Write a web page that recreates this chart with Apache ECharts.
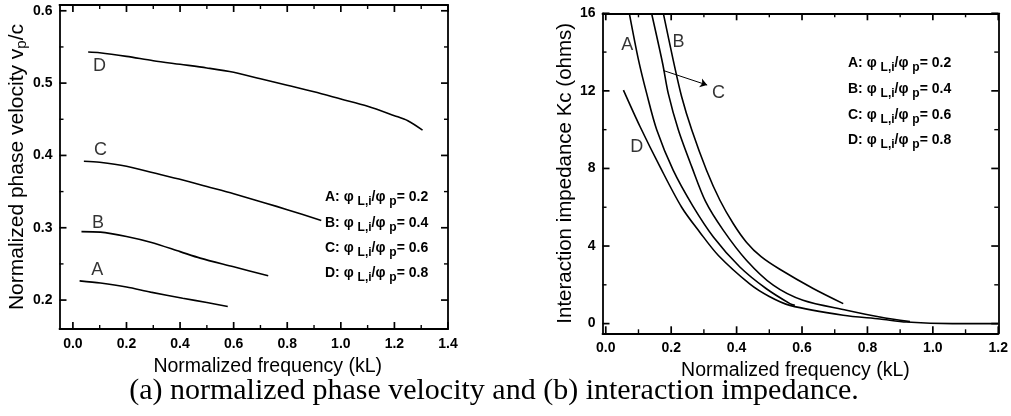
<!DOCTYPE html>
<html>
<head>
<meta charset="utf-8">
<script src="https://cdn.jsdelivr.net/npm/echarts@6/dist/echarts.min.js"></script>
<style>
html, body { margin: 0; padding: 0; background: #fff; }
#chart { width: 1011px; height: 416px; }
</style>
</head>
<body>
<div id="chart"></div>
<script>
// (a) normalized phase velocity, [kL, vp/c]
var velA = [[0.025, 0.2266], [0.103, 0.2235], [0.2, 0.218], [0.29, 0.211], [0.41, 0.2025], [0.5, 0.1966], [0.578, 0.191]];
var velB = [[0.032, 0.2947], [0.103, 0.294], [0.2, 0.288], [0.29, 0.280], [0.4, 0.267], [0.475, 0.258], [0.6, 0.246], [0.729, 0.2335]];
var velC = [[0.041, 0.392], [0.1, 0.3905], [0.2, 0.385], [0.3, 0.376], [0.41, 0.366], [0.5, 0.357], [0.6, 0.347], [0.72, 0.334], [0.8, 0.325], [0.927, 0.31]];
var velD = [[0.057, 0.543], [0.1, 0.542], [0.2, 0.537], [0.3, 0.531], [0.4, 0.526], [0.5, 0.521], [0.6, 0.515], [0.7, 0.506], [0.8, 0.497], [0.9, 0.488], [1.0, 0.478], [1.1, 0.468], [1.2, 0.455], [1.25, 0.448], [1.305, 0.435]];

// (b) interaction impedance, [kL, Kc]
var impA = [[0.072, 16], [0.1, 13.6], [0.125, 11.87], [0.156, 9.98], [0.206, 7.91], [0.265, 6.1], [0.329, 4.47], [0.41, 2.92], [0.49, 1.81], [0.563, 1.03], [0.578, 0.94]];
var impB = [[0.176, 16], [0.206, 13.6], [0.232, 11.7], [0.263, 9.98], [0.308, 7.91], [0.349, 6.36], [0.39, 5.15], [0.43, 4.2], [0.475, 3.45], [0.532, 2.8], [0.634, 1.81], [0.726, 1.03]];
var impC = [[0.14, 16], [0.174, 13.4], [0.191, 11.87], [0.222, 9.98], [0.263, 8.08], [0.305, 6.3], [0.359, 4.82], [0.43, 3.27], [0.512, 1.98], [0.603, 1.2], [0.736, 0.69], [0.838, 0.34], [0.93, 0.1]];
var impD = [[0.054, 12.04], [0.105, 10.15], [0.166, 8.08], [0.232, 6.0], [0.288, 4.7], [0.345, 3.5], [0.44, 2.05], [0.5, 1.4], [0.563, 0.94], [0.726, 0.43], [0.838, 0.24], [0.92, 0.08], [1.06, 0.0], [1.2, 0.0]];

var curveNames = ['A', 'B', 'C', 'D'];
var ratioValues = ['0.2', '0.4', '0.6', '0.8'];

// curve letters, in data coords
var velLabelAt = [[0.091, 0.242], [0.094, 0.306], [0.103, 0.408], [0.099, 0.524]];
var impLabelAt = [[0.066, 14.37], [0.222, 14.5], [0.345, 11.87], [0.095, 9.11]];
var impArrow = [[0.176, 13.05], [0.31, 12.3]];

// axis ranges and ticks
var velRangeX = [-0.05, 1.4];
var velRangeY = [0.16, 0.608];
var impRangeX = [-0.01, 1.2];
var impRangeY = [-0.5, 16];
var velTicksX = [0, 0.2, 0.4, 0.6, 0.8, 1.0, 1.2, 1.4];
var velMinorX = [0.1, 0.3, 0.5, 0.7, 0.9, 1.1, 1.3];
var velTicksY = [0.2, 0.3, 0.4, 0.5, 0.6];
var velMinorY = [0.25, 0.35, 0.45, 0.55];
var impTicksX = [0, 0.2, 0.4, 0.6, 0.8, 1.0, 1.2];
var impMinorX = [0.1, 0.3, 0.5, 0.7, 0.9, 1.1];
var impTicksY = [0, 4, 8, 12, 16];
var impMinorY = [2, 6, 10, 14];

var sans = 'Liberation Sans';

function $each(arr, fn) { for (var i = 0; i < arr.length; i++) fn(arr[i], i); }

//坐标轴：主轴带标签，对侧轴只画边框
function buildAxes(gridIndex, isX, range, major, digits, opt) {
    var pos = isX ? ['bottom', 'top'] : ['left', 'right'];
    var base = function (p) {
        return {
            type: 'value', gridIndex: gridIndex, position: p, min: range[0], max: range[1],
            axisLine: { show: true, onZero: false, lineStyle: { color: '#000', width: 1.8 } },
            axisTick: { show: false },
            axisLabel: { show: false },
            splitLine: { show: false }
        };
    };
    var main = base(pos[0]);
    main.axisLabel = {
        show: true, customValues: major, margin: opt.margin, color: '#000',
        fontFamily: sans, fontSize: 14, fontWeight: 'bold',
        formatter: function (v) { return Number(v).toFixed(digits); }
    };
    main.name = opt.name;
    main.nameLocation = 'middle';
    main.nameGap = opt.nameGap;
    main.nameTextStyle = {
        fontFamily: sans, fontSize: opt.nameSize, color: '#000', padding: opt.namePad || 0,
        rich: { sub: { fontFamily: sans, fontSize: opt.nameSize * 0.72, padding: [opt.nameSize * 0.45, 0, 0, 0] } }
    };
    return [main, base(pos[1])];
}

//四边朝内的刻度（主/次），位置由坐标轴换算
function tickSeries(gi, rx, ry, majX, minX, majY, minY) {
    var d = [];
    $each(majX, function (v) { d.push([v, 0, 1]); d.push([v, 1, 1]); });
    $each(minX, function (v) { d.push([v, 0, 0]); d.push([v, 1, 0]); });
    $each(majY, function (v) { d.push([v, 2, 1]); d.push([v, 3, 1]); });
    $each(minY, function (v) { d.push([v, 2, 0]); d.push([v, 3, 0]); });
    return {
        type: 'custom', xAxisIndex: gi * 2, yAxisIndex: gi * 2, silent: true, clip: false, z: 5,
        data: d,
        renderItem: function (params, api) {
            var v = api.value(0), side = api.value(1);
            var len = api.value(2) ? 7 : 4;
            var p, q;
            if (side < 2) {
                p = api.coord([v, side == 0 ? ry[0] : ry[1]]);
                q = [p[0], p[1] + (side == 0 ? -len : len)];
            } else {
                p = api.coord([side == 2 ? rx[0] : rx[1], v]);
                q = [p[0] + (side == 2 ? len : -len), p[1]];
            }
            return {
                type: 'line', shape: { x1: p[0], y1: p[1], x2: q[0], y2: q[1] },
                style: { stroke: '#000', lineWidth: api.value(2) ? 1.7 : 1.4 }
            };
        }
    };
}

function curve(data, gi) {
    return {
        type: 'line', data: data, xAxisIndex: gi * 2, yAxisIndex: gi * 2,
        showSymbol: false, smooth: 0.3, clip: true,
        lineStyle: { color: '#000', width: 1.6 }, silent: true
    };
}

function letters(pts, gi) {
    var d = [];
    $each(pts, function (p, i) { d.push({ value: p, name: curveNames[i] }); });
    return {
        type: 'scatter', data: d, xAxisIndex: gi * 2, yAxisIndex: gi * 2, symbolSize: 0, silent: true,
        label: { show: true, position: 'inside', formatter: '{b}', color: '#000', fontFamily: sans, fontSize: 18 }
    };
}

//图例文字
function legendTexts(x, ys) {
    var g = [];
    $each(curveNames, function (n, i) {
        g.push({
            type: 'text', x: x, y: ys[i], silent: true,
            style: {
                text: n + ': φ {s|L,i}/φ {s|p}= ' + ratioValues[i],
                fontFamily: sans, fontSize: 14, fontWeight: 'bold', fill: '#000', verticalAlign: 'middle',
                rich: { s: { fontFamily: sans, fontSize: 12, fontWeight: 'bold', fill: '#000', padding: [9, 0, 0, 0] } }
            }
        });
    });
    return g;
}

var myChart = echarts.init(document.getElementById('chart'));

var xAxes = buildAxes(0, true, velRangeX, velTicksX, 1, { margin: 8, name: 'Normalized frequency (kL)', nameGap: 28, nameSize: 19.5, namePad: [0, 0, 0, 28] })
    .concat(buildAxes(1, true, impRangeX, impTicksX, 1, { margin: 8, name: 'Normalized frequency (kL)', nameGap: 24, nameSize: 19.5, namePad: [0, 10, 0, 0] }));
var yAxes = buildAxes(0, false, velRangeY, velTicksY, 1, { margin: 7, name: 'Normalized phase velocity v{sub|p}/c', nameGap: 30, nameSize: 21 })
    .concat(buildAxes(1, false, impRangeY, impTicksY, 0, { margin: 7, name: 'Interaction impedance Kc (ohms)', nameGap: 25, nameSize: 20.5 }));

var arrowSeries = curve(impC, 1);
arrowSeries.markLine = {
    silent: true, animation: false, symbolSize: 7,
    lineStyle: { color: '#000', width: 1, type: 'solid' }, label: { show: false },
    data: [[{ coord: impArrow[0], symbol: 'none' }, { coord: impArrow[1], symbol: 'arrow' }]]
};

option = {
    backgroundColor: '#fff',
    animation: false,
    grid: [
        { left: 59.5, top: 5, width: 388.5, height: 324 },
        { left: 602.5, top: 13.3, width: 396.5, height: 320 }
    ],
    xAxis: xAxes,
    yAxis: yAxes,
    series: [
        curve(velA, 0), curve(velB, 0), curve(velC, 0), curve(velD, 0),
        curve(impA, 1), curve(impB, 1), arrowSeries, curve(impD, 1),
        letters(velLabelAt, 0), letters(impLabelAt, 1),
        tickSeries(0, velRangeX, velRangeY, velTicksX, velMinorX, velTicksY, velMinorY),
        tickSeries(1, impRangeX, impRangeY, impTicksX, impMinorX, impTicksY, impMinorY)
    ],
    graphic: legendTexts(325, [196.7, 222.7, 248.3, 273.3])
        .concat(legendTexts(848, [63.3, 89.3, 115, 140]))
        .concat([{
            type: 'text', x: 494, y: 391, silent: true,
            style: {
                text: '(a) normalized phase velocity and (b) interaction impedance.',
                fontFamily: 'Liberation Serif', fontSize: 30, fill: '#000', align: 'center', verticalAlign: 'middle'
            }
        }])
};
myChart.setOption(option);
</script>
</body>
</html>
